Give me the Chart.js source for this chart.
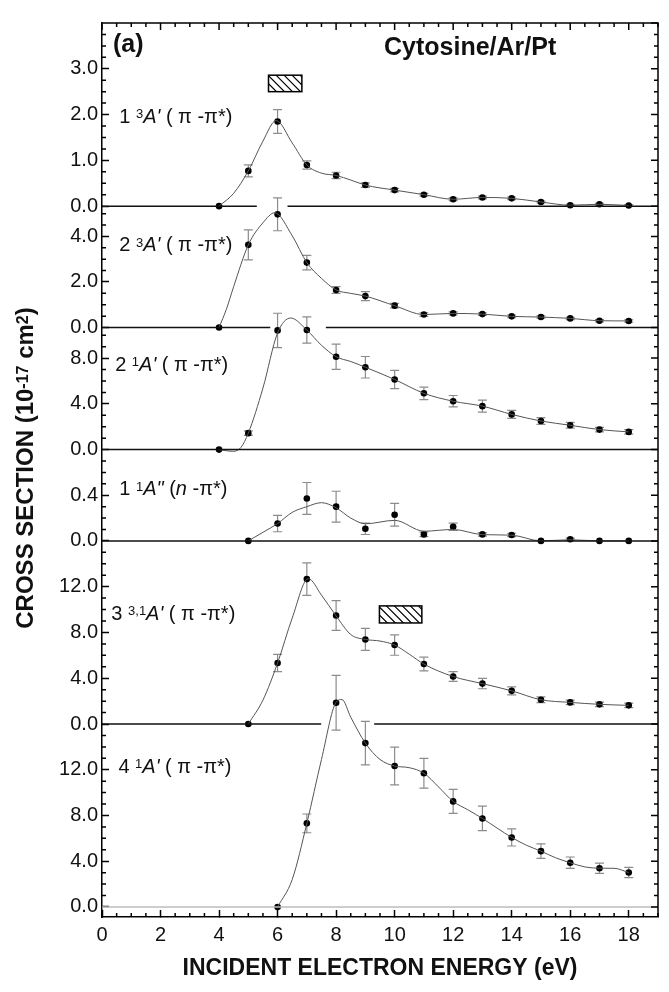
<!DOCTYPE html>
<html>
<head>
<meta charset="utf-8">
<script src="https://cdn.jsdelivr.net/npm/chart.js@4.4.1/dist/chart.umd.min.js"></script>
<style>
  html, body { margin: 0; padding: 0; background: #fff; }
  #wrap { width: 669px; height: 992px; }
</style>
</head>
<body>
<div id="wrap"><canvas id="chart" width="669" height="992"></canvas></div>
<script>
const FONT = '"Liberation Sans", Arial, sans-serif';

// measured points (eV)
const energies = [4, 5, 6, 7, 8, 9, 10, 11, 12, 13, 14, 15, 16, 17, 18];

const triplet1 = [0, 0.77, 1.85, 0.90, 0.67, 0.46, 0.35, 0.25, 0.15, 0.19, 0.17, 0.09, 0.02, 0.04, 0.015];
const triplet1Err = [0, 0.13, 0.26, 0.09, 0.07, 0.05, 0.04, 0.03, 0.03, 0.03, 0.03, 0.02, 0.02, 0.02, 0.02];
const triplet2 = [0, 3.63, 4.97, 2.85, 1.65, 1.38, 0.96, 0.57, 0.62, 0.59, 0.49, 0.46, 0.40, 0.30, 0.29];
const triplet2Err = [0, 0.66, 0.72, 0.32, 0.15, 0.2, 0.1, 0.08, 0.07, 0.06, 0.06, 0.05, 0.05, 0.05, 0.05];
const singlet2 = [0, 1.44, 10.42, 10.45, 8.12, 7.20, 6.13, 4.92, 4.23, 3.80, 3.08, 2.50, 2.13, 1.75, 1.55];
const singlet2Err = [0, 0.2, 1.5, 1.15, 1.1, 0.94, 0.8, 0.55, 0.5, 0.52, 0.35, 0.3, 0.25, 0.2, 0.2];
const npi = [null, 0, 0.152, 0.372, 0.30, 0.106, 0.229, 0.057, 0.123, 0.057, 0.052, 0, 0.014, 0, 0];
const npiErr = [0, 0, 0.072, 0.14, 0.135, 0.05, 0.1, 0.02, 0.032, 0.015, 0.015, 0, 0.01, 0, 0];
const mixed3 = [null, 0, 5.33, 12.66, 9.48, 7.39, 6.90, 5.24, 4.15, 3.53, 2.90, 2.12, 1.89, 1.72, 1.63];
const mixed3Err = [0, 0, 0.76, 1.42, 1.3, 0.96, 0.89, 0.6, 0.43, 0.45, 0.35, 0.25, 0.2, 0.2, 0.2];
const singlet4 = [null, null, 0, 7.31, 17.86, 14.33, 12.33, 11.70, 9.23, 7.74, 6.08, 4.88, 3.87, 3.39, 3.01];
const singlet4Err = [0, 0, 0, 0.82, 2.4, 1.9, 1.65, 1.3, 1.05, 1.07, 0.75, 0.64, 0.5, 0.45, 0.45];

// fitted curves
const triplet1CurveE = [4, 4.5, 5, 5.5, 5.95, 6.5, 7, 7.5, 8, 8.5, 9, 10, 11, 12, 13, 14, 15, 16, 17, 18];
const triplet1Curve = [0, 0.28, 0.77, 1.42, 1.87, 1.38, 0.90, 0.72, 0.67, 0.57, 0.46, 0.35, 0.25, 0.15, 0.19, 0.17, 0.09, 0.02, 0.04, 0.015];
const triplet2CurveE = [4, 4.25, 4.5, 5, 5.5, 5.9, 6.5, 7, 7.5, 8, 8.5, 9, 10, 11, 12, 13, 14, 15, 16, 17, 18];
const triplet2Curve = [0, 0.8, 1.8, 3.63, 4.6, 5.04, 4.03, 2.85, 2.16, 1.65, 1.5, 1.38, 0.96, 0.57, 0.62, 0.59, 0.49, 0.46, 0.40, 0.30, 0.29];
const singlet2CurveE = [4, 4.25, 4.5, 4.75, 5, 5.5, 6, 6.45, 7, 7.5, 8, 8.5, 9, 10, 11, 12, 13, 14, 15, 16, 17, 18];
const singlet2Curve = [0, -0.1, -0.15, 0.2, 1.44, 5.38, 10.2, 11.5, 10.45, 9.12, 8.12, 7.7, 7.2, 6.13, 4.92, 4.23, 3.80, 3.08, 2.50, 2.13, 1.75, 1.55];
const npiCurveE = [5, 5.5, 6, 6.5, 7, 7.5, 8, 8.5, 9, 10, 11, 12, 13, 14, 15, 16, 17, 18];
const npiCurve = [0, 0.075, 0.152, 0.25, 0.30, 0.335, 0.29, 0.2, 0.15, 0.18, 0.085, 0.10, 0.055, 0.05, 0, 0.01, 0, 0];
const mixed3CurveE = [5, 5.5, 6, 6.5, 7.05, 7.5, 8, 8.5, 9, 9.5, 10, 10.5, 11, 12, 13, 14, 15, 16, 17, 18];
const mixed3Curve = [0, 2.09, 5.33, 9.26, 12.7, 11.26, 9.45, 7.82, 7.39, 7.25, 6.90, 6.1, 5.24, 4.15, 3.53, 2.90, 2.12, 1.89, 1.72, 1.63];
const singlet4CurveE = [6, 6.5, 7, 7.5, 8, 8.2, 8.5, 9, 9.5, 10, 10.5, 11, 11.5, 12, 12.5, 13, 13.5, 14, 14.5, 15, 15.5, 16, 16.5, 17, 17.5, 18];
const singlet4Curve = [0, 2.4, 7.31, 12.9, 17.9, 18.14, 16.6, 14.33, 12.9, 12.33, 12.18, 11.7, 10.5, 9.23, 8.5, 7.74, 6.9, 6.08, 5.4, 4.88, 4.3, 3.87, 3.5, 3.39, 3.38, 3.01];

// tick labels
const xTicks = [0, 2, 4, 6, 8, 10, 12, 14, 16, 18];
const ticks1 = [0, 1, 2, 3];
const ticks2 = [0, 2, 4];
const ticks3 = [0, 4, 8];
const ticks4 = [0, 0.4];
const ticks5 = [0, 4, 8, 12];
const ticks6 = [0, 4, 8, 12];

// energy windows (hatched boxes): [e0, e1, y0, y1]
const window1 = [5.69, 6.83, 2.50, 2.86];
const window5 = [9.48, 10.93, 8.83, 10.32];

// state labels: [text, style]
const label1 = [['1 ', 'n'], ['3', 'sup'], ["A'", 'i'], [' ( \u03c0 -\u03c0*)', 'n']];
const label2 = [['2 ', 'n'], ['3', 'sup'], ["A'", 'i'], [' ( \u03c0 -\u03c0*)', 'n']];
const label3 = [['2 ', 'n'], ['1', 'sup'], ["A'", 'i'], [' ( \u03c0 -\u03c0*)', 'n']];
const label4 = [['1 ', 'n'], ['1', 'sup'], ['A"', 'i'], [' (', 'n'], ['n', 'i'], [' -\u03c0*)', 'n']];
const label5 = [['3 ', 'n'], ['3,1', 'sup'], ["A'", 'i'], [' ( \u03c0 -\u03c0*)', 'n']];
const label6 = [['4 ', 'n'], ['1', 'sup'], ["A'", 'i'], [' ( \u03c0 -\u03c0*)', 'n']];

const yTitle = [['CROSS SECTION (10', 'n'], ['-17', 'sup'], [' cm', 'n'], ['2', 'sup'], [')', 'n']];
const xTitle = 'INCIDENT ELECTRON ENERGY (eV)';

const panels = [
  { id: 'p1', values: triplet1, errors: triplet1Err, curveE: triplet1CurveE, curve: triplet1Curve, ticks: ticks1, min: 0, max: 4, step: 1, gaps: [[5.29, 6.34]], label: label1, at: [0.59, 1.82], h: 186, box: window1 },
  { id: 'p2', values: triplet2, errors: triplet2Err, curveE: triplet2CurveE, curve: triplet2Curve, ticks: ticks2, min: 0, max: 5.33, step: 2, gaps: [[5.75, 7.65]], label: label2, at: [0.59, 3.35], h: 123.3 },
  { id: 'p3', values: singlet2, errors: singlet2Err, curveE: singlet2CurveE, curve: singlet2Curve, ticks: ticks3, min: 0, max: 10.67, step: 4, gaps: [], label: label3, at: [0.45, 6.88], h: 124 },
  { id: 'p4', values: npi, errors: npiErr, curveE: npiCurveE, curve: npiCurve, ticks: ticks4, min: 0, max: 0.8, step: 0.4, gaps: [], label: label4, at: [0.59, 0.40], h: 92.7 },
  { id: 'p5', values: mixed3, errors: mixed3Err, curveE: mixed3CurveE, curve: mixed3Curve, ticks: ticks5, min: 0, max: 16, step: 4, gaps: [[7.49, 9.30]], label: label5, at: [0.32, 9.11], h: 186, box: window5 },
  { id: 'p6', values: singlet4, errors: singlet4Err, curveE: singlet4CurveE, curve: singlet4Curve, ticks: ticks6, min: -0.88, max: 16, step: 4, gaps: [], label: label6, at: [0.56, 11.75], h: 196, baseColor: '#bdbdbd' }
];

function baseline(p) {
  const pts = [{ x: 0, y: 0 }];
  p.gaps.forEach(g => {
    pts.push({ x: g[0], y: 0 }, { x: (g[0] + g[1]) / 2, y: null }, { x: g[1], y: 0 });
  });
  pts.push({ x: 19, y: 0 });
  return pts;
}

const datasets = [];
panels.forEach(p => {
  datasets.push({
    data: baseline(p), yAxisID: p.id, borderColor: p.baseColor || '#111', borderWidth: 1.5,
    pointRadius: 0, spanGaps: false, clip: false
  });
  datasets.push({
    data: p.curveE.map((e, i) => ({ x: e, y: p.curve[i] })), yAxisID: p.id,
    borderColor: '#555', borderWidth: 1, pointRadius: 0, cubicInterpolationMode: 'monotone', clip: false
  });
  datasets.push({
    data: energies.map((e, i) => ({ x: e, y: p.values[i] })).filter(d => d.y !== null), yAxisID: p.id,
    showLine: false, pointRadius: 3.3, pointBackgroundColor: '#000', pointBorderWidth: 0, clip: false
  });
});

const scales = {
  x: {
    type: 'linear', min: 0, max: 19, position: 'bottom',
    afterBuildTicks: s => { s.ticks = xTicks.map(v => ({ value: v })); },
    ticks: { padding: 13, color: '#111', font: { family: FONT, size: 20 } },
    grid: { drawOnChartArea: false, tickLength: -7, tickWidth: 1.5, tickColor: '#000' },
    border: { color: '#000', width: 1.5 },
    title: { display: true, text: xTitle, color: '#111', font: { family: FONT, size: 23, weight: 'bold' }, padding: { top: 0, bottom: 10 } },
    afterFit: s => { s.height = 75; }
  }
};
panels.forEach((p, i) => {
  scales[p.id] = {
    type: 'linear', position: 'left', stack: 'panels', stackWeight: p.h, weight: 10 - i,
    min: p.min, max: p.max,
    afterBuildTicks: s => { s.ticks = p.ticks.map(v => ({ value: v })); },
    ticks: { padding: 11, color: '#111', font: { family: FONT, size: 20 }, callback: v => v.toFixed(1) },
    grid: { drawOnChartArea: false, tickLength: -7, tickWidth: 1.5, tickColor: '#000' },
    border: { color: '#000', width: 1.5 },
    afterFit: s => { s.width = 60; }
  };
});

function drawParts(ctx, parts, x, y, size, weight) {
  const w = weight ? weight + ' ' : '';
  parts.forEach(([text, style]) => {
    let dy = 0;
    if (style === 'sup') {
      ctx.font = w + Math.round(size * 0.65) + 'px ' + FONT;
      dy = -size * 0.22;
    } else if (style === 'i') {
      ctx.font = 'italic ' + w + size + 'px ' + FONT;
    } else {
      ctx.font = w + size + 'px ' + FONT;
    }
    ctx.fillText(text, x, y + dy);
    x += ctx.measureText(text).width;
  });
}

function partsWidth(ctx, parts, size, weight) {
  let total = 0;
  const w = weight ? weight + ' ' : '';
  parts.forEach(([text, style]) => {
    if (style === 'sup') ctx.font = w + Math.round(size * 0.65) + 'px ' + FONT;
    else if (style === 'i') ctx.font = 'italic ' + w + size + 'px ' + FONT;
    else ctx.font = w + size + 'px ' + FONT;
    total += ctx.measureText(text).width;
  });
  return total;
}

const errorBars = {
  id: 'errorBars',
  beforeDatasetsDraw(chart) {
    const ctx = chart.ctx;
    const xs = chart.scales.x;
    ctx.save();
    ctx.strokeStyle = '#8c8c8c';
    ctx.lineWidth = 1.2;
    panels.forEach(p => {
      const ys = chart.scales[p.id];
      energies.forEach((e, i) => {
        const v = p.values[i];
        const err = p.errors[i];
        if (v === null || !err) return;
        const px = xs.getPixelForValue(e);
        const top = ys.getPixelForValue(v + err);
        const bot = ys.getPixelForValue(v - err);
        ctx.beginPath();
        ctx.moveTo(px, top); ctx.lineTo(px, bot);
        ctx.moveTo(px - 4.5, top); ctx.lineTo(px + 4.5, top);
        ctx.moveTo(px - 4.5, bot); ctx.lineTo(px + 4.5, bot);
        ctx.stroke();
      });
      if (p.box) {
        const [e0, e1, y0, y1] = p.box;
        const bx = xs.getPixelForValue(e0), bw = xs.getPixelForValue(e1) - bx;
        const by = ys.getPixelForValue(y1), bh = ys.getPixelForValue(y0) - by;
        ctx.save();
        ctx.strokeStyle = '#000';
        ctx.lineWidth = 1.2;
        ctx.beginPath();
        ctx.rect(bx, by, bw, bh);
        ctx.clip();
        ctx.beginPath();
        for (let k = -bh; k < bw + bh; k += 8) {
          ctx.moveTo(bx + k, by);
          ctx.lineTo(bx + k + bh, by + bh);
        }
        ctx.stroke();
        ctx.restore();
        ctx.save();
        ctx.strokeStyle = '#000';
        ctx.lineWidth = 1.5;
        ctx.strokeRect(bx, by, bw, bh);
        ctx.restore();
      }
    });
    ctx.restore();
  }
};

const frame = {
  id: 'frame',
  afterDraw(chart) {
    const ctx = chart.ctx;
    const a = chart.chartArea;
    const xs = chart.scales.x;
    ctx.save();
    ctx.strokeStyle = '#000';
    ctx.lineWidth = 1.5;
    ctx.beginPath();
    ctx.moveTo(a.left, a.top); ctx.lineTo(a.right, a.top); ctx.lineTo(a.right, a.bottom);
    ctx.stroke();

    // x minor ticks, top ticks
    ctx.beginPath();
    for (let k = 0; k <= 38; k++) {
      const e = k / 2;
      const px = xs.getPixelForValue(e);
      const major = k % 4 === 0;
      const len = major ? 7 : 4;
      ctx.moveTo(px, a.top); ctx.lineTo(px, a.top + len);
      if (!major) { ctx.moveTo(px, a.bottom); ctx.lineTo(px, a.bottom - len); }
    }
    // y minor ticks, right ticks
    panels.forEach(p => {
      const ys = chart.scales[p.id];
      const minor = p.step / 4;
      for (let k = Math.ceil(p.min / minor - 1e-6); k * minor <= p.max + 1e-6; k++) {
        const py = ys.getPixelForValue(k * minor);
        const major = k % 4 === 0;
        const len = major ? 7 : 4;
        ctx.moveTo(a.right, py); ctx.lineTo(a.right - len, py);
        if (!major) { ctx.moveTo(a.left, py); ctx.lineTo(a.left + len, py); }
      }
    });
    ctx.stroke();

    // texts
    ctx.fillStyle = '#111';
    ctx.textBaseline = 'alphabetic';
    ctx.textAlign = 'left';
    panels.forEach(p => {
      const ys = chart.scales[p.id];
      drawParts(ctx, p.label, xs.getPixelForValue(p.at[0]), ys.getPixelForValue(p.at[1]), 20);
    });
    ctx.font = 'bold 25px ' + FONT;
    ctx.fillText('(a)', 113, 52);
    ctx.fillText('Cytosine/Ar/Pt', 384, 55);

    // y title
    ctx.save();
    ctx.translate(33, 468);
    ctx.rotate(-Math.PI / 2);
    const tw = partsWidth(ctx, yTitle, 24, 'bold');
    drawParts(ctx, yTitle, -tw / 2, 0, 24, 'bold');
    ctx.restore();
    ctx.restore();
  }
};

new Chart(document.getElementById('chart'), {
  type: 'line',
  data: { datasets },
  options: {
    responsive: false,
    animation: false,
    layout: { padding: { left: 42, right: 11, top: 9, bottom: 0 } },
    plugins: { legend: { display: false }, tooltip: { enabled: false } },
    scales
  },
  plugins: [errorBars, frame]
});
</script>
</body>
</html>
